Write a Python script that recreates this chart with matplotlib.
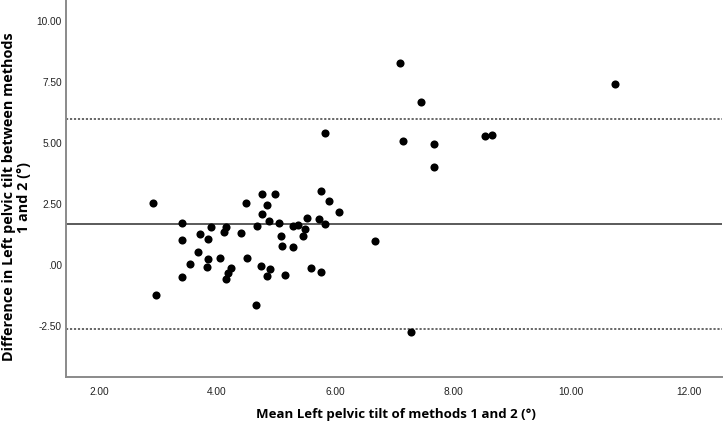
import numpy as np
from matplotlib import pyplot as plt
from matplotlib.ticker import FuncFormatter

# Bland-Altman data
mean_tilt = [2.92, 2.96, 3.40, 3.41, 3.40, 3.55, 3.67, 3.71, 3.84, 3.89,
             3.85, 3.83, 4.05, 4.11, 4.16, 4.23, 4.19, 4.16, 4.40, 4.49,
             4.51, 4.66, 4.67, 4.74, 4.77, 4.84, 4.77, 4.88, 4.84, 4.90,
             4.99, 5.05, 5.08, 5.10, 5.15, 5.28, 5.29, 5.37, 5.45, 5.49,
             5.53, 5.59, 5.73, 5.76, 5.76, 5.83, 5.83, 5.90, 6.06, 6.68,
             7.10, 7.46, 7.15, 7.67, 7.68, 8.55, 8.66, 10.75, 7.28]
diff_tilt = [2.56, -1.23, 1.74, 1.02, -0.47, 0.04, 0.54, 1.27, 1.06, 1.57,
             0.25, -0.06, 0.29, 1.36, 1.55, -0.10, -0.33, -0.57, 1.33, 2.56,
             0.31, -1.61, 1.61, -0.03, 2.93, 2.45, 2.10, 1.82, -0.44, -0.15,
             2.92, 1.72, 1.21, 0.79, -0.41, 1.61, 0.74, 1.64, 1.19, 1.47,
             1.95, -0.12, 1.88, 3.04, -0.26, 5.42, 1.69, 2.63, 2.18, 0.99,
             8.29, 6.68, 5.07, 4.95, 4.03, 5.30, 5.33, 7.40, -2.72]
mean_diff = 1.69
upper_loa = 5.97
lower_loa = -2.59

x_ticks = [2, 4, 6, 8, 10, 12]
y_ticks = [-2.5, 0, 2.5, 5, 7.5, 10]


# SPSS style labels: two decimals, no leading zero
def spss_fmt(v, pos):
    s = "%.2f" % v
    if s == "0.00":
        return ".00"
    return s


fig = plt.figure(figsize=(7.24, 4.24), dpi=100)
ax = fig.add_axes([0.0912, 0.111, 0.906, 0.889])

ax.scatter(mean_tilt, diff_tilt, s=34, color="black", zorder=3, linewidths=0)
ax.axhline(mean_diff, color="#5a5a5a", linewidth=1.4, zorder=2)
ax.axhline(upper_loa, color="#5a5a5a", linewidth=1.3, linestyle=(0, (1.2, 1.0)), zorder=2)
ax.axhline(lower_loa, color="#5a5a5a", linewidth=1.3, linestyle=(0, (1.2, 1.0)), zorder=2)

ax.set_xlim(1.44, 12.56)
ax.set_ylim(-4.57, 10.85)
ax.set_xticks(x_ticks)
ax.set_yticks(y_ticks)
ax.xaxis.set_major_formatter(FuncFormatter(spss_fmt))
ax.yaxis.set_major_formatter(FuncFormatter(spss_fmt))
ax.tick_params(length=0, labelsize=7.3, colors="#222222")
ax.tick_params(axis="x", pad=7)
ax.tick_params(axis="y", pad=3)
for lab in ax.get_xticklabels() + ax.get_yticklabels():
    lab.set_family("Liberation Sans")

for side in ["top", "right"]:
    ax.spines[side].set_visible(False)
for side in ["left", "bottom"]:
    ax.spines[side].set_color("#8a8a8a")
    ax.spines[side].set_linewidth(1.4)

# axis titles placed on the figure
fig.text(0.547, 0.022, "Mean Left pelvic tilt of methods 1 and 2 (°)", family="Open Sans",
         fontweight="bold", fontsize=9.5, ha="center", va="center")
fig.text(0.023, 0.535, "Difference in Left pelvic tilt between methods\n1 and 2 (°)", family="Open Sans",
         fontweight="bold", fontsize=10.4, ha="center", va="center", rotation=90,
         multialignment="center", linespacing=1.05)

fig.savefig("out.png", dpi=100)
